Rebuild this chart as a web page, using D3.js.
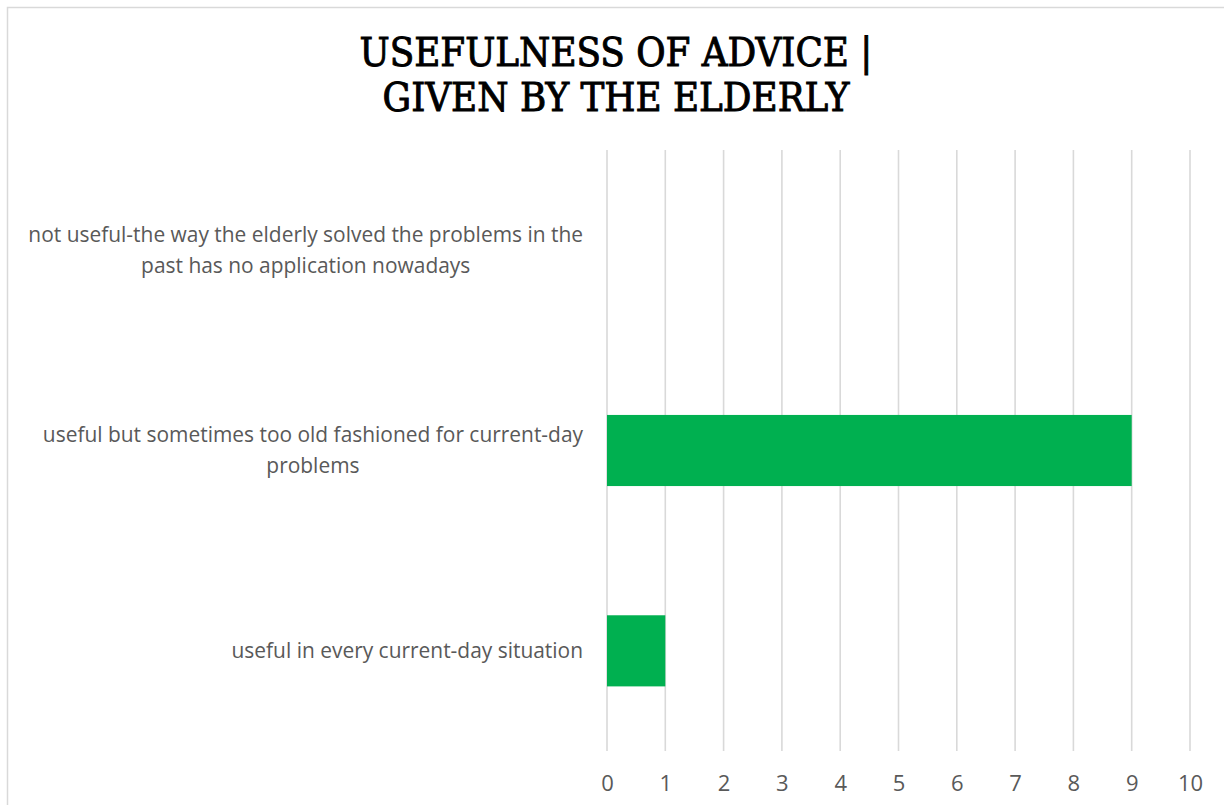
<!DOCTYPE html>
<html>
<head>
<meta charset="utf-8">
<script src="https://cdn.jsdelivr.net/npm/d3@7"></script>
<style>
  body { margin: 0; background: #fff; }
  svg { display: block; }
</style>
</head>
<body>
<div class="chart"></div>
<script>
// chart data, top row first
const categories = [
    ["not useful-the way the elderly solved the problems in the", "past has no application nowadays"],
    ["useful but sometimes too old fashioned for current-day", "problems"],
    ["useful in every current-day situation"]
];
const values = [0, 9, 1];
const xTicks = [0, 1, 2, 3, 4, 5, 6, 7, 8, 9, 10];
const titleLines = ["USEFULNESS OF ADVICE |", "GIVEN BY THE ELDERLY"];

const width = 1224;
const height = 805;
const plot = {left: 607, right: 1190, top: 150, bottom: 751};

const svg = d3.select(".chart")
    .append("svg")
    .attr("width", width)
    .attr("height", height);

// outer chart border (runs off the right/bottom edge like the picture)
svg.append("rect")
    .attr("x", 7.5).attr("y", 7.5)
    .attr("width", width + 20).attr("height", height + 20)
    .attr("fill", "#fff")
    .attr("stroke", "#d9d9d9")
    .attr("stroke-width", 1.5);

const xScale = d3.scaleLinear().domain([0, 10]).range([plot.left, plot.right]);
const yScale = d3.scaleBand()
    .domain(d3.range(categories.length))
    .range([plot.top, plot.bottom])
    .paddingInner(0.645)
    .paddingOuter(0.3225);

// vertical gridlines
svg.append("g").selectAll("line")
    .data(xTicks)
    .enter()
    .append("line")
    .attr("x1", d => xScale(d)).attr("x2", d => xScale(d))
    .attr("y1", plot.top).attr("y2", plot.bottom)
    .attr("stroke", "#d9d9d9")
    .attr("stroke-width", 1.6);

// bars
svg.append("g").selectAll("rect")
    .data(values)
    .enter()
    .append("rect")
    .attr("x", xScale(0))
    .attr("y", (d, i) => yScale(i))
    .attr("width", d => xScale(d) - xScale(0))
    .attr("height", yScale.bandwidth())
    .attr("fill", "#00b050");

// x axis tick labels
const xAxis = svg.append("g")
    .attr("transform", `translate(0,${plot.bottom})`)
    .call(d3.axisBottom(xScale).tickValues(xTicks).tickSize(0).tickPadding(0));
xAxis.select(".domain").remove();
xAxis.selectAll("text")
    .attr("y", 32)
    .attr("dy", "0.35em")
    .style("font-family", "'Open Sans', sans-serif")
    .style("font-size", "22px")
    .attr("fill", "#595959");

// category labels: block right aligned to the plot, lines centred inside it
const labelFont = "'Open Sans', sans-serif";
const labelRight = 583;
const labels = svg.append("g");
categories.forEach((lines, i) => {
    const g = labels.append("g");
    const cy = yScale(i) + yScale.bandwidth() / 2;
    const lineH = 31;
    lines.forEach((t, j) => g.append("text")
        .attr("y", cy + (j - (lines.length - 1) / 2) * lineH)
        .attr("dy", "0.35em")
        .attr("text-anchor", "middle")
        .style("font-family", labelFont)
        .style("font-size", "17px")
        .attr("fill", "#595959")
        .text(t));
});
// fit the label size so the longest line matches the picture width (about 555px)
let longest = 0;
labels.selectAll("text").each(function () { longest = Math.max(longest, this.getComputedTextLength()); });
const labelSize = 17 * 555 / longest;
labels.selectAll("text").style("font-size", labelSize + "px");
labels.selectAll("g").each(function () {
    let w = 0;
    d3.select(this).selectAll("text").each(function () { w = Math.max(w, this.getComputedTextLength()); });
    d3.select(this).selectAll("text").attr("x", labelRight - w / 2);
});

// title
const title = svg.append("g");
titleLines.forEach((t, j) => {
    title.append("text")
        .attr("x", 616)
        .attr("y", 66 + j * 45)
        .attr("text-anchor", "middle")
        .style("font-family", "'DejaVu Serif Condensed', 'DejaVu Serif', serif")
        .style("font-stretch", "condensed")
        .style("font-size", "34px")
        .attr("fill", "#000")
        .attr("stroke", "#000")
        .attr("stroke-width", 0.9)
        .text(t);
});
const tw = title.select("text").node().getComputedTextLength();
title.selectAll("text").style("font-size", (34 * 513 / tw) + "px");
</script>
</body>
</html>
